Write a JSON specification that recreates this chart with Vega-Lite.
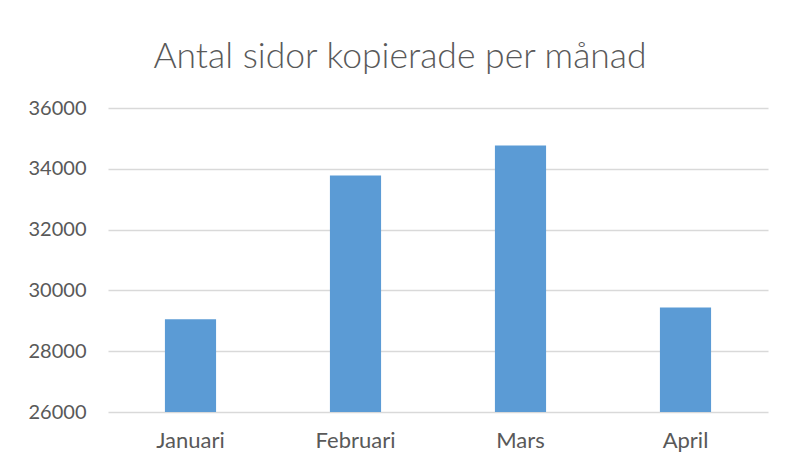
{
  "$schema": "https://vega.github.io/schema/vega-lite/v6.json",
  "width": 660,
  "height": 304,
  "autosize": {"type": "none"},
  "padding": {"left": 108, "top": 108, "right": 19, "bottom": 59},
  "background": "white",
  "title": {
    "text": "Antal sidor kopierade per månad",
    "font": "Lato",
    "fontSize": 35.5,
    "fontWeight": 300,
    "color": "#595959",
    "anchor": "middle",
    "baseline": "alphabetic",
    "offset": -5,
    "dx": -38
  },
  "data": {
    "values": [
      {"month": "Januari", "pages": 29050},
      {"month": "Februari", "pages": 33780},
      {"month": "Mars", "pages": 34770},
      {"month": "April", "pages": 29440}
    ]
  },
  "mark": {"type": "bar", "color": "#5b9bd5"},
  "encoding": {
    "x": {
      "field": "month",
      "type": "nominal",
      "sort": null,
      "scale": {"paddingInner": 0.69, "paddingOuter": 0.345},
      "axis": {
        "title": null,
        "labelAngle": 0,
        "ticks": false,
        "domain": false,
        "labelFont": "Lato",
        "labelFontSize": 22,
        "labelColor": "#595959",
        "labelPadding": 18
      }
    },
    "y": {
      "field": "pages",
      "type": "quantitative",
      "scale": {"domain": [26000, 36000], "zero": false, "nice": false},
      "axis": {
        "title": null,
        "values": [26000, 28000, 30000, 32000, 34000, 36000],
        "format": "d",
        "ticks": false,
        "domain": false,
        "gridColor": "#d9d9d9",
        "gridWidth": 1.5,
        "labelFont": "Lato",
        "labelFontSize": 20,
        "labelColor": "#595959",
        "labelPadding": 22
      }
    },
    "y2": {"datum": 26000}
  },
  "config": {"view": {"stroke": null}}
}
